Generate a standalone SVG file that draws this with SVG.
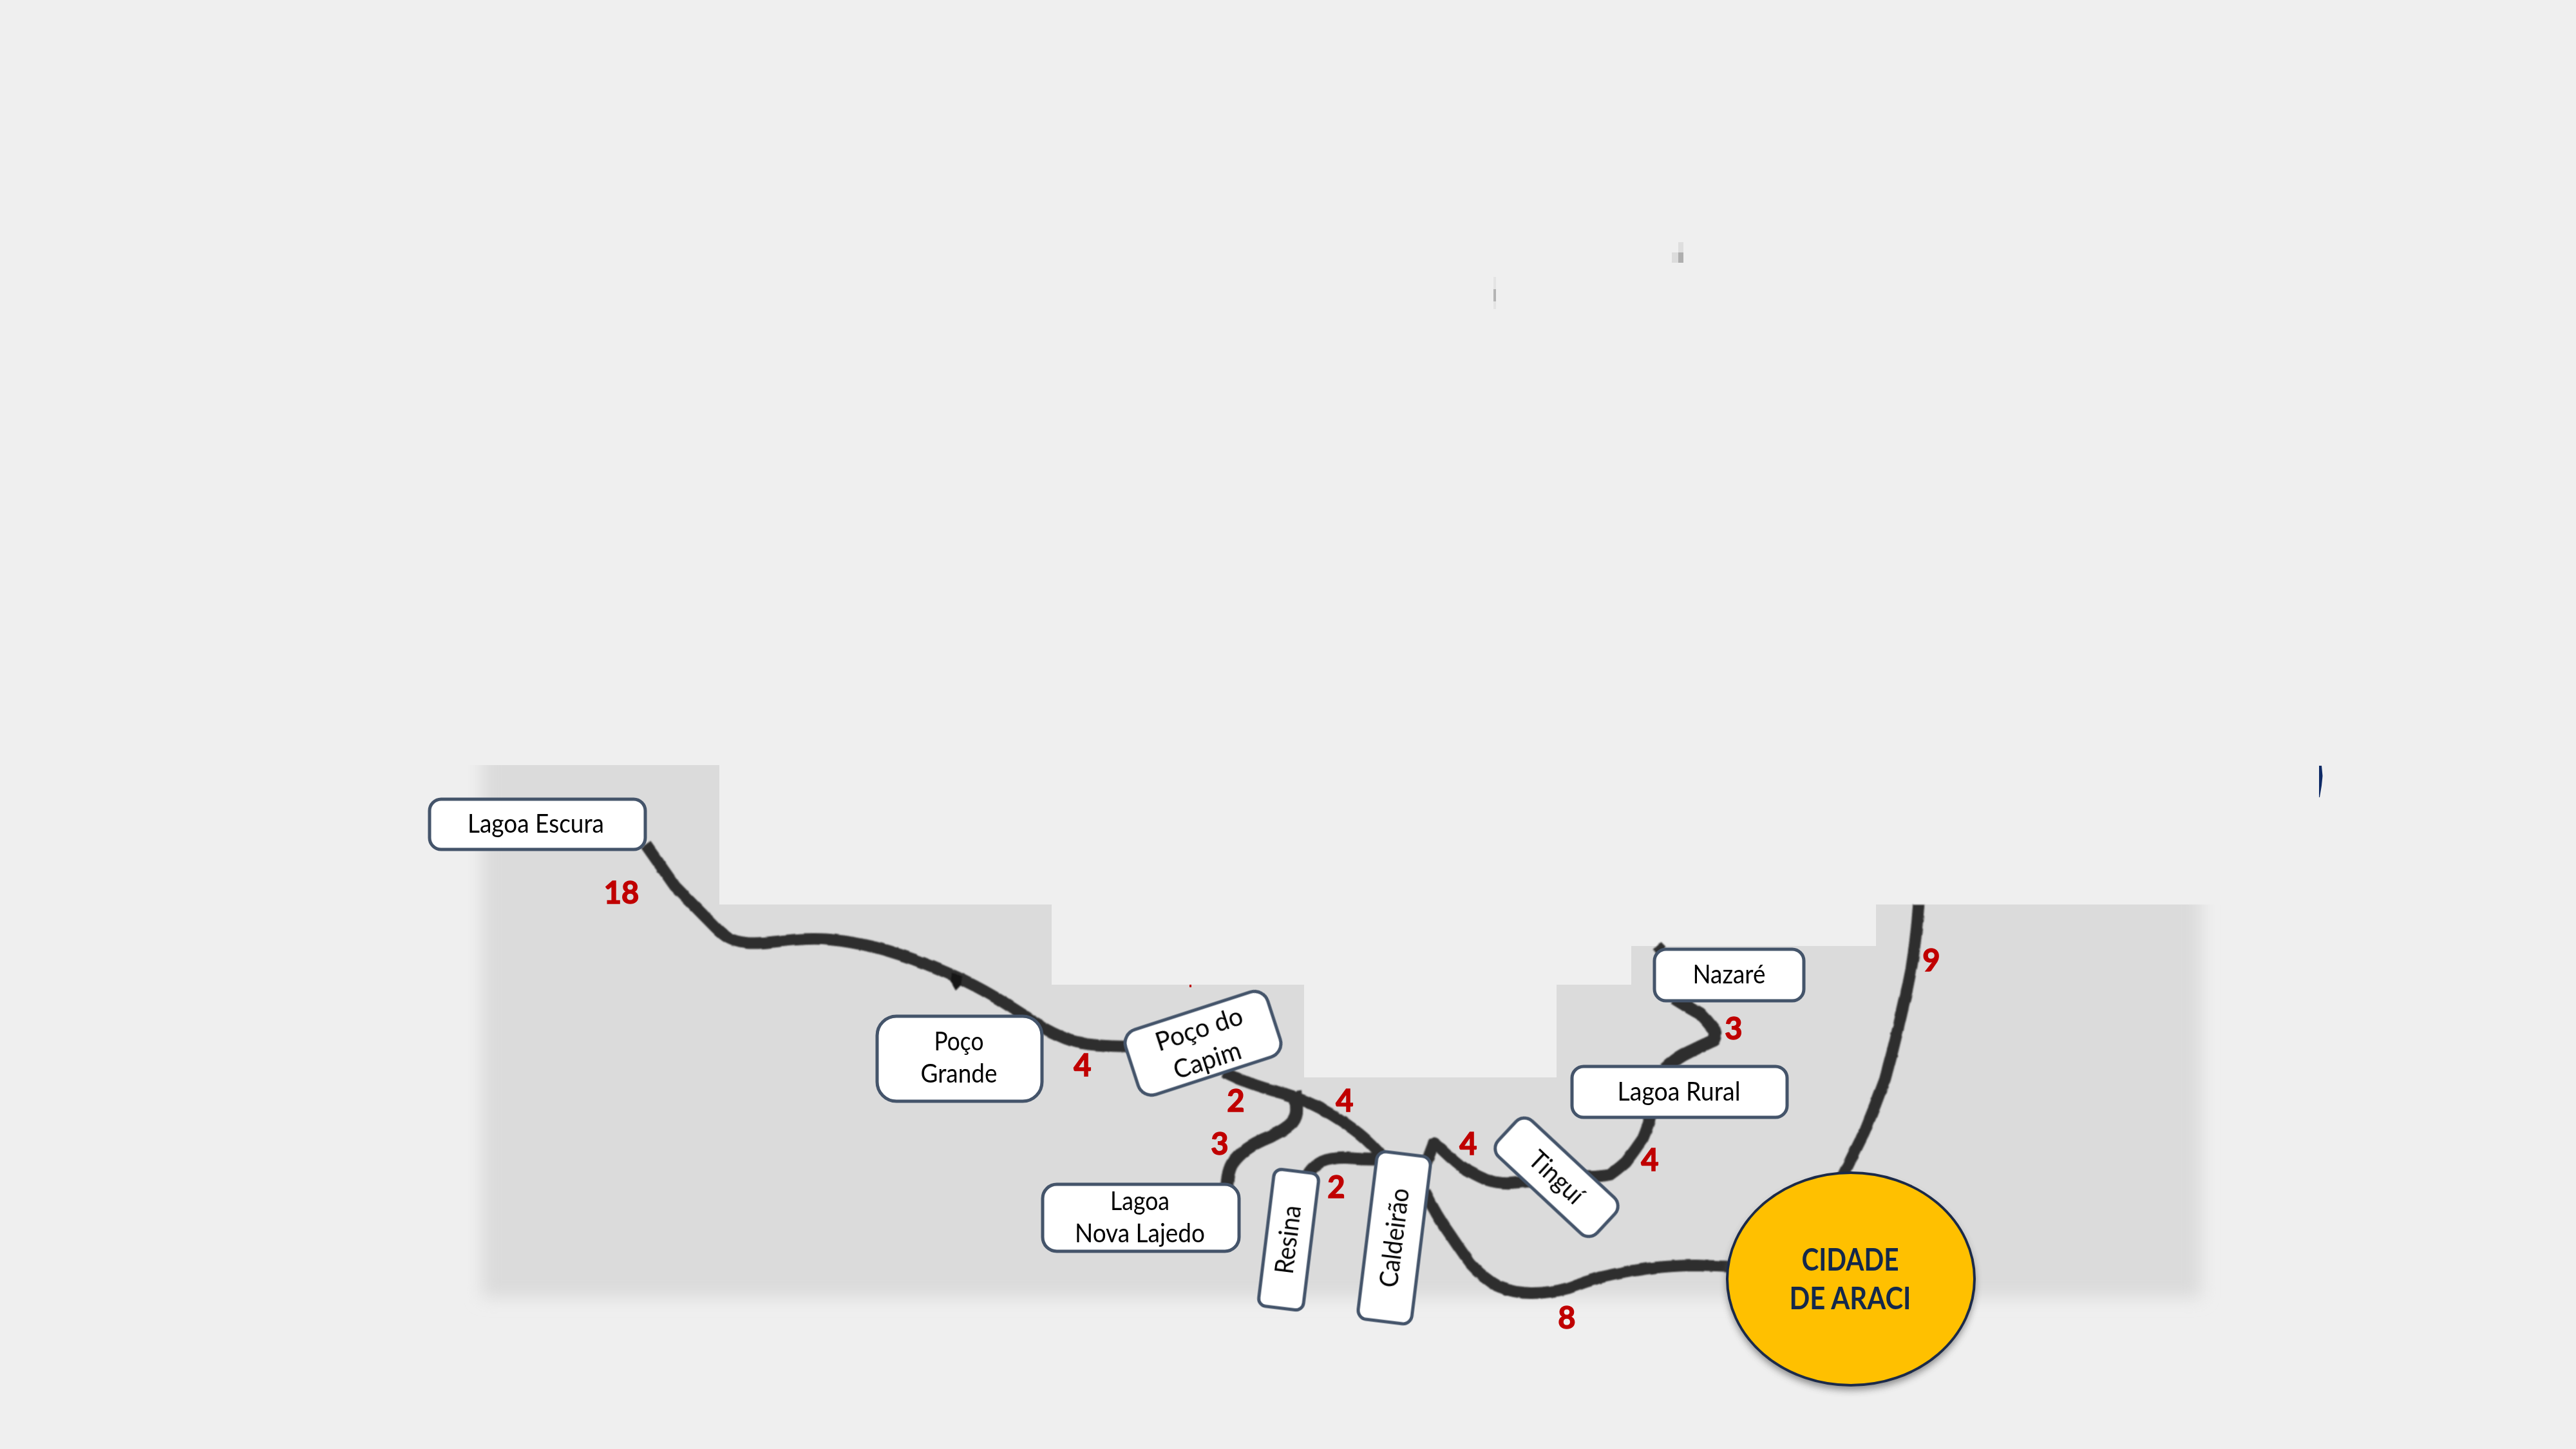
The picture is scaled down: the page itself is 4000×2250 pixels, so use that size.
<svg xmlns="http://www.w3.org/2000/svg" width="4000" height="2250" viewBox="0 0 4000 2250">
<style>
.node{fill:#fff;stroke:#44546A;stroke-width:5}
.t{font-family:Lato,"Liberation Sans",sans-serif;font-size:41px;fill:#000;text-anchor:middle}
.n{font-family:Lato,"Liberation Sans",sans-serif;font-size:47px;font-weight:700;fill:#C00000;stroke:#C00000;stroke-width:1.5;text-anchor:middle}
.c{font-family:Lato,"Liberation Sans",sans-serif;font-size:47px;font-weight:700;fill:#14284B;text-anchor:middle}
.w{fill:none;stroke:#2D2D2D;stroke-width:18;stroke-linejoin:round;stroke-linecap:butt}
</style>
<defs>
<filter id="soft" x="-5%" y="-5%" width="110%" height="110%"><feGaussianBlur stdDeviation="13"/></filter>
<filter id="sh" x="-10%" y="-10%" width="120%" height="120%"><feGaussianBlur stdDeviation="6"/></filter>
<filter id="rough" filterUnits="userSpaceOnUse" x="900" y="1250" width="2200" height="900"><feTurbulence type="fractalNoise" baseFrequency="0.05" numOctaves="2" seed="4"/><feDisplacementMap in="SourceGraphic" scale="3.5" xChannelSelector="R" yChannelSelector="G"/><feGaussianBlur stdDeviation="1.1"/></filter>
<clipPath id="stairs"><path d="M690,1188H1117V1404.5H1633V1529H2025V1673H2417V1529H2533V1469H2913V1404.5H3490V2070H690Z"/></clipPath>
<clipPath id="top9"><rect x="900" y="1405" width="2300" height="800"/></clipPath>
</defs>
<rect width="4000" height="2250" fill="#EFEFEF"/>
<g id="backdrop">
<g clip-path="url(#stairs)"><rect x="748" y="1100" width="2670" height="915" fill="#DBDBDB" filter="url(#soft)"/></g>
</g>
<g id="marks">
<rect x="2319" y="430" width="4" height="50" fill="#E4E4E4"/>
<rect x="2319" y="449" width="4" height="19" fill="#B4B4B4"/>
<rect x="2596" y="392" width="10" height="16" fill="#DCDCDC"/>
<rect x="2606" y="376" width="8" height="16" fill="#DEDEDE"/>
<rect x="2606" y="392" width="8" height="16" fill="#AEAEAE"/>
<path d="M3601,1189H3605L3606.5,1205L3605,1220L3602,1238H3601Z" fill="#0E2A66"/>
<rect x="1847" y="1529" width="3" height="4" fill="#C00000"/>
</g>
<g id="connectors" filter="url(#rough)">
<path class="w" d="M1003,1312L1048,1376L1112,1441Q1123,1452 1132,1457Q1142,1462 1158,1464Q1174,1466 1215,1461Q1257,1456 1289,1459Q1321,1462 1359,1471Q1397,1481 1438,1497Q1480,1514 1502,1525Q1525,1536 1556,1555Q1588,1575 1606,1587Q1625,1600 1644,1608Q1663,1617 1682,1620Q1702,1624 1750,1625"/>
<path d="M1478,1510L1494,1516L1492,1530L1484,1538L1476,1524Z" fill="#141414"/>
<path class="w" d="M1900,1664L1926,1676Q1950,1686 1979,1694Q2008,1703 2027,1710Q2046,1718 2068,1731Q2091,1745 2110,1760Q2129,1775 2150,1800"/>
<path class="w" style="stroke-width:20" d="M2011,1695Q2014,1718 2013,1729Q2011,1741 2000,1749Q1989,1758 1970,1766Q1950,1774 1936,1784Q1922,1795 1914,1806Q1906,1818 1905,1845"/>
<path class="w" d="M2030,1825Q2040,1810 2052,1804Q2070,1797 2091,1798Q2115,1800 2140,1800"/>
<path class="w" d="M2215,1805L2226,1776L2238,1784Q2252,1798 2270,1812Q2289,1824 2308,1832Q2327,1838 2347,1837L2468,1827Q2485,1827 2500,1824Q2513,1815 2525,1804Q2538,1787 2551,1768Q2558,1752 2564,1730"/>
<path class="w" style="stroke-width:20" d="M2585,1660Q2600,1646 2614,1638Q2640,1625 2660,1616Q2666,1606 2660,1597Q2650,1584 2640,1574Q2622,1564 2600,1550"/>
<path class="w" d="M2573,1469L2580,1476"/>
<path class="w" d="M2212,1850Q2232,1890 2251,1916Q2267,1940 2283,1962Q2305,1986 2327,1998Q2353,2008 2378,2008Q2408,2008 2436,2000Q2462,1990 2487,1983Q2522,1975 2557,1970Q2595,1965 2634,1965L2690,1967"/>
<path class="w" clip-path="url(#top9)" d="M2980,1395Q2976,1455 2968,1503Q2960,1546 2949,1590Q2939,1633 2927,1676Q2912,1717 2895,1758Q2879,1790 2862,1825"/>
</g>
<g id="lagoa-escura"><rect class="node" x="667" y="1241" width="335" height="78" rx="18"/><text class="t" x="832" y="1293" textLength="212" lengthAdjust="spacingAndGlyphs">Lagoa Escura</text></g>
<g id="poco-grande"><rect class="node" x="1362" y="1578" width="256" height="132" rx="30"/><text class="t" x="1489" y="1631" textLength="77" lengthAdjust="spacingAndGlyphs">Poço</text><text class="t" x="1489" y="1681" textLength="119" lengthAdjust="spacingAndGlyphs">Grande</text></g>
<g id="poco-do-capim" transform="translate(1868,1620) rotate(-18)"><rect class="node" x="-116" y="-53" width="232" height="106" rx="22"/><text class="t" x="1" y="-9" textLength="140" lengthAdjust="spacingAndGlyphs">Poço do</text><text class="t" x="-2" y="41" textLength="108" lengthAdjust="spacingAndGlyphs">Capim</text></g>
<g id="lagoa-nova-lajedo"><rect class="node" x="1619" y="1839" width="305" height="104" rx="22"/><text class="t" x="1770" y="1879" textLength="92" lengthAdjust="spacingAndGlyphs">Lagoa</text><text class="t" x="1770" y="1929" textLength="202" lengthAdjust="spacingAndGlyphs">Nova Lajedo</text></g>
<g id="resina" transform="translate(2001,1925) rotate(7)"><rect class="node" x="-35" y="-107" width="70" height="214" rx="12"/><text class="t" transform="rotate(-90)" x="0" y="13" textLength="107" lengthAdjust="spacingAndGlyphs">Resina</text></g>
<g id="caldeirao" transform="translate(2165,1922) rotate(7)"><rect class="node" x="-42" y="-131" width="84" height="262" rx="14"/><text class="t" transform="rotate(-90)" x="0" y="14" textLength="155" lengthAdjust="spacingAndGlyphs">Caldeirão</text></g>
<g id="tingui" transform="translate(2417,1828) rotate(43)"><rect class="node" x="-105" y="-38" width="210" height="76" rx="18"/><text class="t" x="0" y="14" textLength="100" lengthAdjust="spacingAndGlyphs">Tinguí</text></g>
<g id="lagoa-rural"><rect class="node" x="2441" y="1656" width="334" height="79" rx="18"/><text class="t" x="2607" y="1709" textLength="191" lengthAdjust="spacingAndGlyphs">Lagoa Rural</text></g>
<g id="nazare"><rect class="node" x="2569" y="1474" width="232" height="80" rx="18"/><text class="t" x="2685" y="1527" textLength="113" lengthAdjust="spacingAndGlyphs">Nazaré</text></g>
<g id="cidade-de-araci"><ellipse cx="2874" cy="1993" rx="192" ry="165" fill="#5A5A5A" opacity="0.7" filter="url(#sh)"/><ellipse cx="2874" cy="1986" rx="192" ry="165" fill="#FFC000" stroke="#1B2A49" stroke-width="4"/><text class="c" x="2873" y="1973" textLength="151" lengthAdjust="spacingAndGlyphs">CIDADE</text><text class="c" x="2873" y="2033" textLength="189" lengthAdjust="spacingAndGlyphs">DE ARACI</text></g>
<g id="labels">
<text class="n" x="965" y="1403">18</text>
<text class="n" x="1681" y="1671">4</text>
<text class="n" x="1919" y="1726">2</text>
<text class="n" x="2088" y="1726">4</text>
<text class="n" x="1894" y="1793">3</text>
<text class="n" x="2075" y="1860">2</text>
<text class="n" x="2280" y="1793">4</text>
<text class="n" x="2562" y="1818">4</text>
<text class="n" x="2692" y="1614">3</text>
<text class="n" x="2999" y="1508">9</text>
<text class="n" x="2433" y="2063">8</text>
</g>
</svg>
